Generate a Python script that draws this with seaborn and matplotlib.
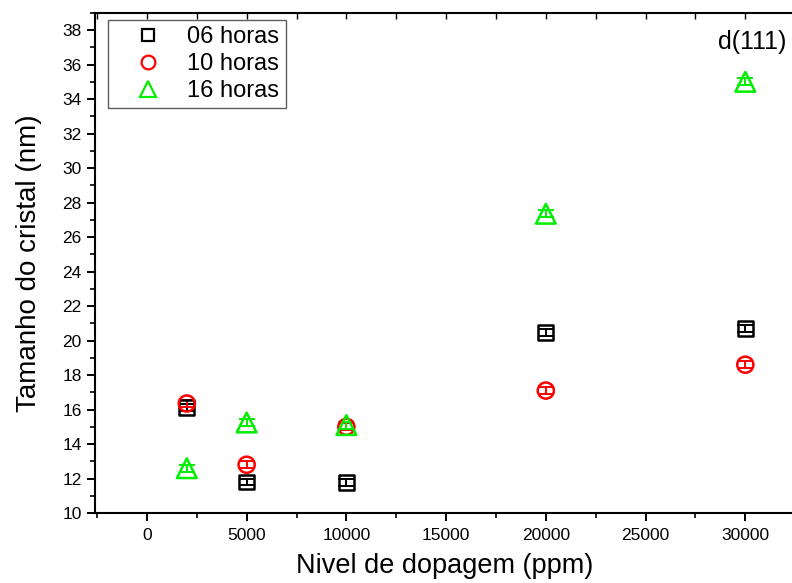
import matplotlib
matplotlib.use("Agg")
import matplotlib.pyplot as plt
import seaborn as sns
import pandas as pd
from matplotlib.lines import Line2D
from matplotlib.ticker import MultipleLocator

sns.set_theme(style="ticks")
plt.rcParams['font.family'] = ['Liberation Sans', 'DejaVu Sans']
plt.rcParams['text.color'] = 'black'
plt.rcParams['axes.labelcolor'] = 'black'
plt.rcParams['xtick.color'] = 'black'
plt.rcParams['ytick.color'] = 'black'

doping = [2000, 5000, 10000, 20000, 30000]
h06 = [16.1, 11.8, 11.75, 20.45, 20.7]
h10 = [16.35, 12.8, 15.0, 17.1, 18.6]
h16 = [12.6, 15.25, 15.1, 27.35, 35.0]
err06 = [0.2, 0.2, 0.2, 0.2, 0.2]
err10 = [0.2, 0.2, 0.2, 0.2, 0.2]
err16 = [0.2, 0.2, 0.2, 0.2, 0.2]
labels = ["06 horas", "10 horas", "16 horas"]
colors = ["black", "#ff0000", "#00ee00"]
markers = ["s", "o", "^"]
sizes = [115, 135, 200]

fig = plt.figure(figsize=(7.92, 5.83), dpi=100)
ax = fig.add_axes([0.12, 0.12, 0.884, 0.858])

series = [h06, h10, h16]
errs = [err06, err10, err16]
handles = []
for lab, ys, es, c, m, s in zip(labels, series, errs, colors, markers, sizes):
    df = pd.DataFrame({"x": doping, "y": ys})
    ax.errorbar(df["x"], df["y"], yerr=es, fmt="none", ecolor=c, elinewidth=1.4,
                capsize=5.5, capthick=1.4, zorder=2)
    sns.scatterplot(data=df, x="x", y="y", marker=m, s=s, ax=ax,
                    facecolor="none", edgecolor=c, linewidth=1.8, zorder=3)
    handles.append(Line2D([], [], linestyle="none", marker=m, markersize=s ** 0.5 * 0.85,
                          markerfacecolor="none", markeredgecolor=c, markeredgewidth=1.6,
                          label=lab))

ax.set_xlim(-2600, 32500)
ax.set_ylim(10, 39)
ax.xaxis.set_major_locator(MultipleLocator(5000))
ax.xaxis.set_minor_locator(MultipleLocator(2500))
ax.yaxis.set_major_locator(MultipleLocator(2))
ax.yaxis.set_minor_locator(MultipleLocator(1))
ax.tick_params(axis="both", which="major", direction="out", length=6, width=1.4,
               labelsize=12.5, colors="black")
ax.tick_params(axis="x", which="major", pad=5)
ax.tick_params(axis="both", which="minor", direction="out", length=3.5, width=1.2)
for sp in ax.spines.values():
    sp.set_linewidth(1.5)
    sp.set_color("black")
ax.set_xlabel("Nivel de dopagem (ppm)", fontsize=19.5, labelpad=7)
ax.set_ylabel("Tamanho do cristal (nm)", fontsize=20, labelpad=15)

# top axis ticks inward
sec = ax.secondary_xaxis("top")
sec.xaxis.set_major_locator(MultipleLocator(2500))
sec.tick_params(direction="in", length=4, width=1.0, labeltop=False)
sec.set_xticklabels([])
ax.tick_params(top=False, right=False, which="both")

ax.text(0.987, 0.965, "d(111)", transform=ax.transAxes, ha="right", va="top", fontsize=18)

leg = ax.legend(handles=handles, loc="upper left", bbox_to_anchor=(0.018, 0.986),
                fontsize=17, frameon=True, fancybox=False, borderpad=0.28,
                handletextpad=0.25, labelspacing=0.2, handlelength=2.85, borderaxespad=0)
leg.get_frame().set_edgecolor("#333333")
leg.get_frame().set_linewidth(1.0)
for t in leg.get_texts():
    t.set_color("black")

fig.savefig("out.png", dpi=100)
